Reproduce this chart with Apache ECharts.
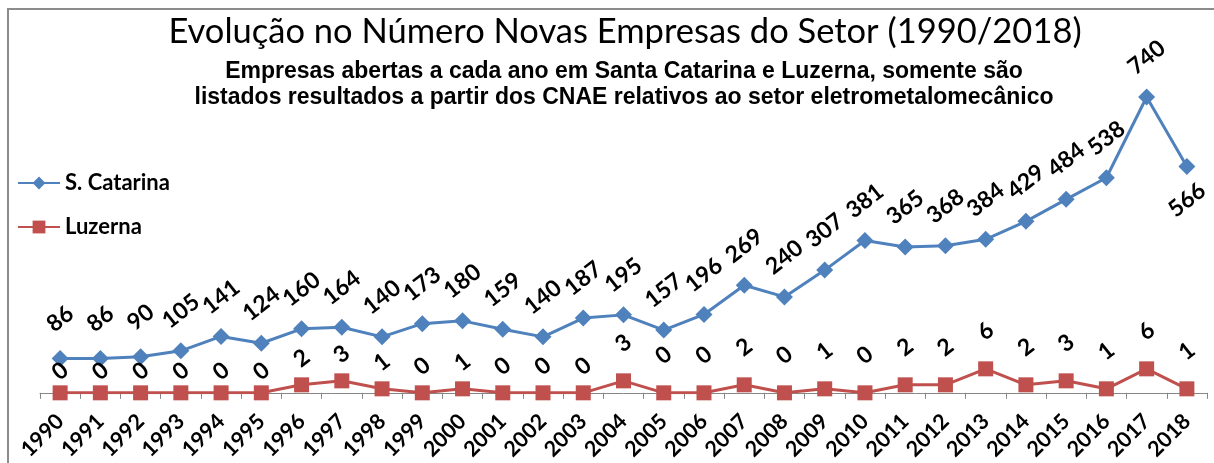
<!DOCTYPE html>
<html>
<head>
<meta charset="utf-8">
<title>Evolução no Número Novas Empresas do Setor</title>
<script src="https://cdn.jsdelivr.net/npm/echarts@6/dist/echarts.min.js"></script>
<style>
  html, body { margin: 0; padding: 0; background: #fff; }
  #chart { width: 1214px; height: 463px; }
</style>
</head>
<body>
<div id="chart"></div>
<script>
  // anos
  var years = ['1990', '1991', '1992', '1993', '1994', '1995', '1996', '1997', '1998', '1999',
    '2000', '2001', '2002', '2003', '2004', '2005', '2006', '2007', '2008', '2009',
    '2010', '2011', '2012', '2013', '2014', '2015', '2016', '2017', '2018'];
  // empresas abertas por ano
  var santaCatarina = [86, 86, 90, 105, 141, 124, 160, 164, 140, 173,
    180, 159, 140, 187, 195, 157, 196, 269, 240, 307,
    381, 365, 368, 384, 429, 484, 538, 740, 566];
  var luzerna = [0, 0, 0, 0, 0, 0, 2, 3, 1, 0,
    1, 0, 0, 0, 3, 0, 0, 2, 0, 1,
    0, 2, 2, 6, 2, 3, 1, 6, 1];

  var labelFont = 'Lato, "DejaVu Sans", sans-serif';

  function dataLabel(distance) {
    return {
      show: true,
      position: 'top',
      distance: distance,
      rotate: 38,
      align: 'center',
      verticalAlign: 'middle',
      fontFamily: labelFont,
      fontSize: 23,
      fontWeight: 'bold',
      color: '#000'
    };
  }

  // o último ponto de S. Catarina tem o rótulo por baixo da linha
  var scData = santaCatarina.map(function (v, i) {
    if (i === santaCatarina.length - 1) {
      return { value: v, label: { position: 'bottom', distance: 25 } };
    }
    return v;
  });
  // os rótulos de Luzerna nos primeiros anos ficam mais perto dos pontos
  var lzData = luzerna.map(function (v, i) {
    if (i < 6) return { value: v, label: { distance: 14 } };
    if (i < 14) return { value: v, label: { distance: 19 } };
    return v;
  });

  var chart = echarts.init(document.getElementById('chart'));

  var option = {
    backgroundColor: '#fff',
    animation: false,
    title: [
      {
        text: 'Evolução no Número Novas Empresas do Setor (1990/2018)',
        left: 620,
        textAlign: 'center',
        top: 9,
        textStyle: {
          fontFamily: labelFont,
          fontSize: 34.5,
          fontWeight: 'normal',
          color: '#000'
        }
      },
      {
        text: 'Empresas abertas a cada ano em Santa Catarina e Luzerna, somente são\nlistados resultados a partir dos CNAE relativos ao setor eletrometalomecânico',
        left: 619,
        textAlign: 'center',
        top: 54,
        textStyle: {
          fontFamily: '"Liberation Sans", Arial, sans-serif',
          fontSize: 23,
          fontWeight: 'bold',
          color: '#000',
          lineHeight: 26
        }
      }
    ],
    legend: {
      orient: 'vertical',
      left: 12,
      top: 167,
      itemGap: 22,
      itemWidth: 42,
      itemHeight: 16,
      textStyle: {
        fontFamily: labelFont,
        fontSize: 22,
        fontWeight: 'bold',
        color: '#000'
      },
      data: ['S. Catarina', 'Luzerna']
    },
    grid: {
      left: 40,
      right: 7,
      top: 73,
      bottom: 70
    },
    xAxis: {
      type: 'category',
      data: years,
      boundaryGap: true,
      axisLine: { lineStyle: { color: '#868686', width: 1 } },
      axisTick: { show: true, length: 6, lineStyle: { color: '#868686' } },
      axisLabel: {
        interval: 0,
        rotate: 45,
        margin: 25,
        fontFamily: labelFont,
        fontSize: 21.5,
        fontWeight: 'bold',
        color: '#000'
      }
    },
    yAxis: [
      { type: 'value', min: 0, max: 800, show: false, splitLine: { show: false } },
      { type: 'value', min: 0, max: 80, show: false, splitLine: { show: false } }
    ],
    graphic: [
      {
        // moldura da figura
        type: 'polyline',
        shape: { points: [[8, 470], [8, 9], [1220, 9]] },
        style: { stroke: '#8c8c8c', lineWidth: 2, fill: null }
      }
    ],
    series: [
      {
        name: 'S. Catarina',
        type: 'line',
        data: scData,
        yAxisIndex: 0,
        symbol: 'diamond',
        symbolSize: 17,
        itemStyle: { color: '#4F81BD' },
        lineStyle: { color: '#4F81BD', width: 3 },
        label: dataLabel(31),
        z: 3
      },
      {
        name: 'Luzerna',
        type: 'line',
        data: lzData,
        yAxisIndex: 1,
        symbol: 'rect',
        symbolSize: 15,
        itemStyle: { color: '#C0504D' },
        lineStyle: { color: '#C0504D', width: 3 },
        label: dataLabel(30),
        z: 4
      }
    ]
  };

  chart.setOption(option);
</script>
</body>
</html>
